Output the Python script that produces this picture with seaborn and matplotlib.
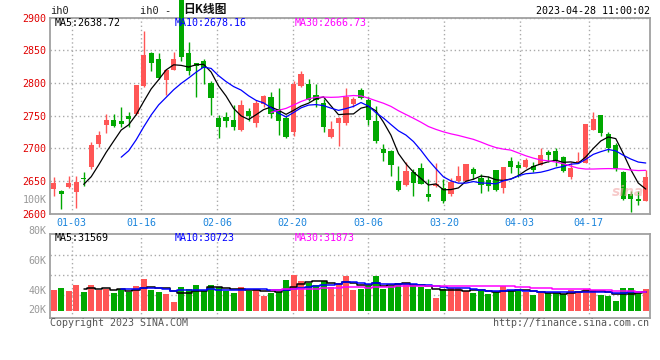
import numpy as np
import pandas as pd
import matplotlib
matplotlib.use('Agg')
import matplotlib.pyplot as plt
import seaborn as sns

sns.set_style("white")
plt.rcParams['font.family'] = ['DejaVu Sans Mono', 'Noto Sans CJK SC']

# K线数据 (日线)
opens = [2637.3, 2634.2, 2641.3, 2633.7, 2655, 2672, 2707, 2735.5, 2742.6, 2741.6,
         2749, 2752, 2795.5, 2845, 2836, 2805, 2820, 2930, 2846, 2829.7,
         2833, 2800, 2746, 2748, 2744, 2728, 2757, 2739, 2767, 2778,
         2760, 2746, 2725, 2795.5, 2799, 2782, 2769, 2718, 2738, 2739,
         2767, 2789, 2774, 2741.6, 2699, 2696, 2650, 2644, 2663, 2670,
         2630, 2642.4, 2639, 2630.2, 2650.5, 2650.5, 2668, 2654, 2651.5, 2667,
         2640, 2680.5, 2674.4, 2672, 2673, 2675, 2695, 2696, 2687, 2656.6,
         2678, 2678, 2728, 2751, 2722, 2705, 2663, 2629.6, 2622.5, 2620]
highs = [2656.1, 2636.8, 2657.6, 2657.6, 2664, 2710, 2727, 2753, 2752, 2763,
         2755, 2797, 2879, 2847, 2846, 2822, 2847, 2930, 2863, 2830,
         2836, 2803, 2751, 2755, 2766, 2774, 2761, 2774, 2782, 2786,
         2792.5, 2751, 2803, 2818, 2806, 2798, 2776, 2741, 2748, 2792.5,
         2779, 2792.5, 2779, 2764.5, 2706.5, 2697, 2673, 2679.5, 2668, 2678,
         2653, 2678, 2653, 2654, 2673, 2676, 2672, 2660, 2657.6, 2667,
         2672, 2687, 2680.5, 2684.6, 2679.5, 2700, 2697, 2701, 2688, 2679.5,
         2695, 2737, 2756, 2751, 2725, 2707.5, 2665, 2634, 2634, 2667]
lows = [2627.1, 2607.8, 2639.3, 2609.2, 2642, 2669, 2702, 2724, 2732, 2732,
        2733, 2751, 2794, 2818, 2806, 2781, 2819, 2834, 2812, 2779,
        2798, 2751, 2716, 2732, 2728, 2726, 2741, 2732, 2763.5, 2747,
        2721, 2715, 2719, 2794, 2772, 2763.5, 2725, 2716, 2704, 2735.5,
        2763.5, 2775, 2735.5, 2708.5, 2680.5, 2658, 2634, 2643, 2627, 2645,
        2620, 2641, 2617, 2627.6, 2649, 2649, 2653, 2632, 2634.7, 2635,
        2631, 2662.7, 2656.6, 2670.4, 2664, 2674, 2679.5, 2673, 2664, 2652.5,
        2678, 2677, 2728, 2719, 2695, 2665.8, 2621, 2602, 2614, 2620]
closes = [2646.4, 2629.6, 2646.4, 2648.9, 2653, 2705, 2720, 2742.6, 2734.5, 2737.5,
          2745, 2797, 2843.4, 2831, 2808, 2820, 2836, 2839, 2818, 2826,
          2823, 2777, 2732, 2741, 2732, 2766, 2749, 2768.6, 2780, 2752,
          2741, 2718, 2799, 2813, 2774, 2774, 2733, 2730, 2746, 2779,
          2775, 2777, 2744, 2711, 2693, 2675, 2637, 2665, 2647.5, 2645,
          2625, 2645.4, 2620, 2649, 2657.6, 2676, 2661, 2644, 2642.4, 2636,
          2671, 2672, 2669.3, 2682, 2667, 2690, 2689, 2680.5, 2666, 2670.4,
          2680.5, 2737, 2745, 2723, 2701, 2668, 2622.5, 2622.5, 2620, 2655.6]
volumes = [33100, 34400, 32500, 36300, 31900, 36300, 33100, 33800, 31300, 33800,
           31900, 35600, 40000, 33100, 31900, 30600, 25600, 35000, 33800, 36300,
           32500, 36300, 35000, 32500, 31300, 35000, 32500, 33800, 29400, 31300,
           31900, 39400, 42500, 38800, 37500, 36300, 38800, 35200, 37700, 41900,
           33100, 33800, 35800, 41900, 33800, 35800, 37500, 37500, 35600, 35000,
           33800, 28100, 33800, 34400, 34400, 32500, 31300, 32500, 30600, 31900,
           35600, 33100, 33100, 31900, 30000, 31300, 31300, 31300, 30600, 33100,
           32500, 33800, 33100, 30000, 29400, 26400, 34400, 34400, 31900, 33800]

tick_pos = [2.4, 11.7, 21.8, 31.9, 42.0, 52.1, 62.2, 71.4]
tick_labels = ['01-03', '01-16', '02-06', '02-20', '03-06', '03-20', '04-03', '04-17']
price_ticks = [2600, 2650, 2700, 2750, 2800, 2850, 2900]

df = pd.DataFrame({'o': opens, 'h': highs, 'l': lows, 'c': closes, 'v': volumes})
df['idx'] = np.arange(len(df))
df['vk'] = df['v'] / 1000
for n in (5, 10, 30):
    df[f'ma{n}'] = df['c'].rolling(n).mean()
    df[f'vma{n}'] = df['vk'].rolling(n).mean()

RED, GREEN = '#ff5656', '#00a800'
colors = np.where(df['c'] >= df['o'], RED, GREEN)
ma_colors = {5: 'black', 10: '#0000ff', 30: '#ff00ff'}
GRID = dict(color='#aaaaaa', linestyle=(0, (1, 2)), linewidth=1)

W, H = 660, 360
fig = plt.figure(figsize=(W / 100, H / 100), dpi=100)


def rect(l, t, r, b):
    return [l / W, 1 - b / H, (r - l) / W, (b - t) / H]


ax1 = fig.add_axes(rect(50, 17.5, 649.5, 213.7))
ax2 = fig.add_axes(rect(50, 234.3, 649.5, 318.3))

# ============ K线 ============
body_low = np.minimum(df['o'], df['c'])
body_h = np.maximum((df['c'] - df['o']).abs(), 1.0)
ax1.vlines(df['idx'], df['l'], df['h'], colors=colors, linewidth=1, clip_on=False, zorder=3)
ax1.bar(df['idx'], body_h, bottom=body_low, width=0.7, color=colors, linewidth=0,
        clip_on=False, zorder=3)

for n in (5, 10, 30):
    d = df.dropna(subset=[f'ma{n}'])
    sns.lineplot(data=d, x='idx', y=f'ma{n}', color=ma_colors[n], linewidth=0.9, ax=ax1, zorder=4)

ax1.set_xlim(-0.5, 79.5)
ax1.set_ylim(2600, 2900)
ax1.set_yticks(price_ticks)
ax1.set_yticklabels([str(t) for t in price_ticks], color='#e00000', fontsize=7.2)
ax1.set_xticks(tick_pos)
ax1.set_xticklabels(tick_labels, color='#1a84dc', fontsize=7.2)
ax1.tick_params(length=0, axis='y', pad=2.5)
ax1.tick_params(length=0, axis='x', pad=3)
ax1.grid(True, **GRID)
ax1.set_xlabel('')
ax1.set_ylabel('')

# ============ 成交量 ============
ax2.bar(df['idx'], df['vk'] - 20, bottom=20, width=0.8, color=colors, linewidth=0, zorder=3)
for n in (5, 10, 30):
    d = df.dropna(subset=[f'vma{n}'])
    sns.lineplot(data=d, x='idx', y=f'vma{n}', color=ma_colors[n], linewidth=1.1,
                 drawstyle='steps-mid', ax=ax2, zorder=4)
ax2.set_xlim(-0.5, 79.5)
ax2.set_ylim(15.44, 67.94)
ax2.set_yticks([30, 42.5, 55])
ax2.set_xticks(tick_pos)
ax2.tick_params(length=0, labelleft=False, labelbottom=False)
ax2.grid(True, **GRID)
ax2.set_xlabel('')
ax2.set_ylabel('')

for ax in (ax1, ax2):
    for s in ax.spines.values():
        s.set_color('#a0a0a0')
        s.set_linewidth(1.3)

for lab, yf in [('80K', 1.039), ('60K', 0.682), ('40K', 0.329), ('20K', 0.099)]:
    ax2.text(-0.0055, yf, lab, transform=ax2.transAxes, ha='right', va='center',
             color='#999999', fontsize=7.2, clip_on=False)


def ftext(x, y, s, **kw):
    kw.setdefault('fontsize', 7.2)
    kw.setdefault('va', 'center')
    fig.text(x / W, 1 - y / H, s, **kw)


ftext(50.5, 11.5, 'ih0', color='#222222', fontsize=7.5)
ftext(140, 10.5, 'ih0 - ', color='#222222', fontsize=7.5)
ftext(183, 10, '日K线图', color='#111111', fontsize=8.5, fontweight='bold',
      family=['Noto Sans CJK SC'])
ftext(649.5, 11.5, '2023-04-28 11:00:02', color='black', ha='right')
ftext(54.3, 23.5, 'MA5:2638.72', color='black', zorder=6)
ftext(174.3, 23.5, 'MA10:2678.16', color='#0000ff', zorder=6)
ftext(294.7, 23.5, 'MA30:2666.73', color='#ff00ff', zorder=6)
ftext(54.3, 238, 'MA5:31569', color='black')
ftext(174.3, 238, 'MA10:30723', color='#0000ff')
ftext(294.7, 238, 'MA30:31873', color='#ff00ff')
ftext(46.7, 200, '100K', color='#999999', ha='right')
ftext(50, 323, 'Copyright 2023 SINA.COM', color='#555555')
ftext(649.5, 323, 'http://finance.sina.com.cn', color='#555555', ha='right')
ftext(612, 192, 'sina', color='#f2a8a8', fontsize=10, fontweight='bold', style='italic',
      alpha=0.6, family=['DejaVu Sans'])

fig.patch.set_facecolor('white')
plt.savefig('out.png', dpi=100)
plt.close()
